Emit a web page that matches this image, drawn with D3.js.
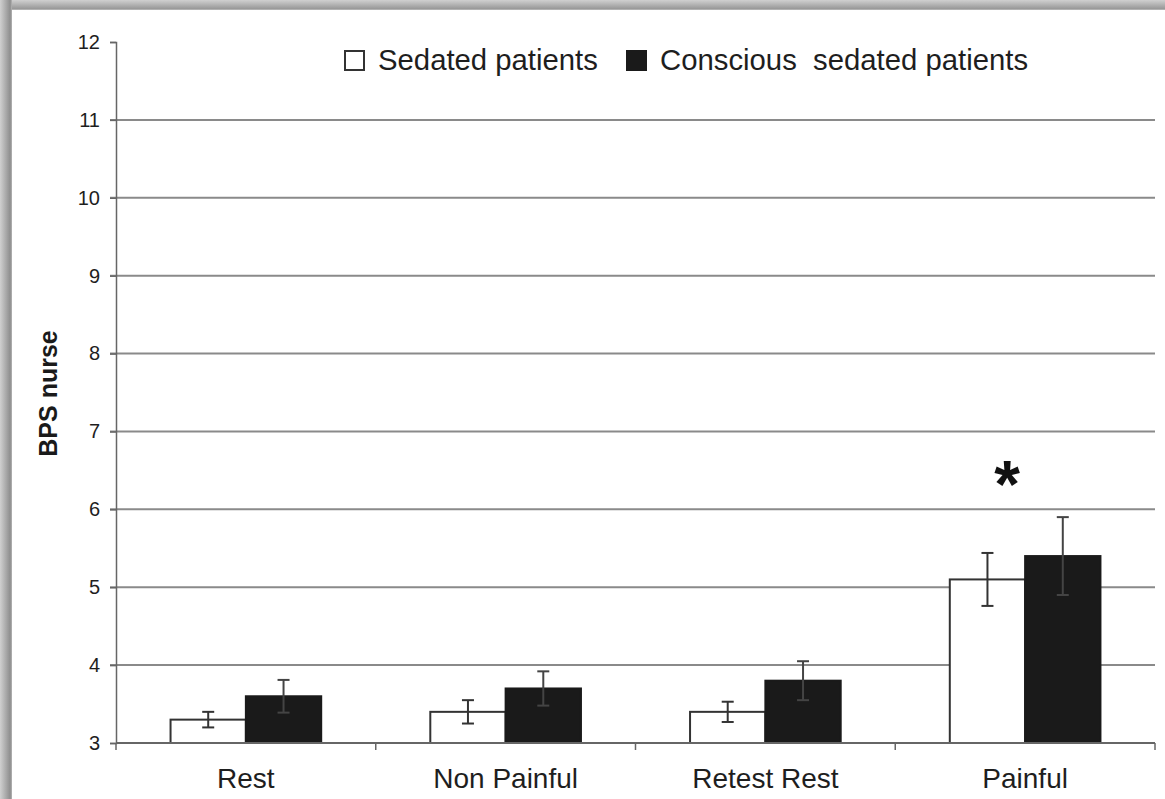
<!DOCTYPE html>
<html>
<head>
<meta charset="utf-8">
<script src="https://cdn.jsdelivr.net/npm/d3@7"></script>
<style>
  html, body { margin: 0; padding: 0; background: #fff; }
  svg { display: block; }
  text { font-family: "Liberation Sans", Arial, sans-serif; }
</style>
</head>
<body>
<svg id="chart" width="1165" height="799"></svg>
<script>
const categories = ["Rest", "Non Painful", "Retest Rest", "Painful"];
const seriesNames = ["Sedated patients", "Conscious sedated patients"];
const sedatedMeans = [3.3, 3.4, 3.4, 5.1];
const sedatedErrors = [0.1, 0.15, 0.13, 0.34];
const consciousMeans = [3.6, 3.7, 3.8, 5.4];
const consciousErrors = [0.21, 0.22, 0.25, 0.5];
const yTicks = [3, 4, 5, 6, 7, 8, 9, 10, 11, 12];
const yLabel = "BPS nurse";
const significance = ["", "", "", "*"];

const svg = d3.select("#chart");
const W = 1165, H = 799;

// frame shading (left and top)
const defs = svg.append("defs");
const gl = defs.append("linearGradient").attr("id", "gl").attr("x1", "0").attr("x2", "1").attr("y1", "0").attr("y2", "0");
gl.append("stop").attr("offset", "0").attr("stop-color", "#d0d0d0");
gl.append("stop").attr("offset", "0.85").attr("stop-color", "#8e8e8e");
gl.append("stop").attr("offset", "1").attr("stop-color", "#b5b5b5");
const gt = defs.append("linearGradient").attr("id", "gt").attr("x1", "0").attr("x2", "0").attr("y1", "0").attr("y2", "1");
gt.append("stop").attr("offset", "0").attr("stop-color", "#d0d0d0");
gt.append("stop").attr("offset", "0.85").attr("stop-color", "#9a9a9a");
gt.append("stop").attr("offset", "1").attr("stop-color", "#bdbdbd");
svg.append("rect").attr("x", 0).attr("y", 0).attr("width", W).attr("height", 10).attr("fill", "url(#gt)");
svg.append("rect").attr("x", 0).attr("y", 0).attr("width", 12).attr("height", H).attr("fill", "url(#gl)");

const x0 = 116, x1 = 1155, yTop = 42, yBot = 743;
const y = d3.scaleLinear().domain([3, 12]).range([yBot, yTop]);

const xOuter = d3.scaleBand().domain(categories).range([x0, x1]).padding(0);
const xBand = d3.scaleBand().domain(categories).range([x0, x1]).paddingInner(0.42).paddingOuter(0.21);
const xSub = d3.scaleBand().domain(seriesNames).range([0, xBand.bandwidth()]).padding(0);

const gridColor = "#8a8a8a";
const textColor = "#1e1e1e";

// gridlines
svg.append("g").selectAll("line").data(yTicks.filter(t => t > 3 && t < 12)).join("line")
  .attr("x1", x0 - 6).attr("x2", x1)
  .attr("y1", d => y(d)).attr("y2", d => y(d))
  .attr("stroke", gridColor).attr("stroke-width", 2);

// y axis
const yAxis = svg.append("g").attr("transform", `translate(${x0},0)`)
  .call(d3.axisLeft(y).tickValues(yTicks).tickSize(6).tickPadding(10).tickFormat(d3.format("d")));
yAxis.select(".domain").attr("stroke", "#666").attr("stroke-width", 1.5);
yAxis.selectAll(".tick line").attr("stroke", "#666").attr("stroke-width", 1.5);
yAxis.selectAll(".tick text").attr("font-size", 20).attr("fill", textColor)
  .attr("font-family", "Liberation Sans, Arial, sans-serif");

// y label
svg.append("text")
  .attr("transform", `translate(57,${(yTop + yBot) / 2 + 1}) rotate(-90)`)
  .attr("text-anchor", "middle")
  .attr("font-size", 25).attr("font-weight", "bold").attr("fill", "#1a1a1a")
  .text(yLabel);

// bars
const groups = svg.append("g").selectAll("g").data(categories).join("g")
  .attr("transform", d => `translate(${xBand(d)},0)`);

const rows = categories.map((c, i) => [
  { s: seriesNames[0], v: sedatedMeans[i], e: sedatedErrors[i] },
  { s: seriesNames[1], v: consciousMeans[i], e: consciousErrors[i] }
]);

groups.each(function (c, i) {
  const g = d3.select(this);
  const data = rows[i];
  g.selectAll("rect").data(data).join("rect")
    .attr("x", d => xSub(d.s))
    .attr("width", xSub.bandwidth())
    .attr("y", d => y(d.v))
    .attr("height", d => y(3) - y(d.v))
    .attr("fill", d => d.s === seriesNames[0] ? "#fff" : "#1a1a1a")
    .attr("stroke", d => d.s === seriesNames[0] ? "#333" : "#1a1a1a")
    .attr("stroke-width", 2);
  // error bars
  const eb = g.selectAll("g.err").data(data).join("g").attr("class", "err");
  const cx = d => xSub(d.s) + xSub.bandwidth() / 2;
  const col = d => d.s === seriesNames[0] ? "#333" : "#444";
  eb.append("line")
    .attr("x1", cx).attr("x2", cx)
    .attr("y1", d => y(d.v + d.e)).attr("y2", d => y(d.v - d.e))
    .attr("stroke", col).attr("stroke-width", 2);
  eb.append("line")
    .attr("x1", d => cx(d) - 6).attr("x2", d => cx(d) + 6)
    .attr("y1", d => y(d.v + d.e)).attr("y2", d => y(d.v + d.e))
    .attr("stroke", col).attr("stroke-width", 2);
  eb.append("line")
    .attr("x1", d => cx(d) - 6).attr("x2", d => cx(d) + 6)
    .attr("y1", d => y(d.v - d.e)).attr("y2", d => y(d.v - d.e))
    .attr("stroke", col).attr("stroke-width", 2);
});

// significance marks
svg.append("g").selectAll("text").data(categories).join("text")
  .attr("x", d => xBand(d) + xBand.bandwidth() / 2 - 18)
  .attr("y", (d, i) => y(Math.max(sedatedMeans[i] + sedatedErrors[i], consciousMeans[i] + consciousErrors[i])) - 10)
  .attr("text-anchor", "middle")
  .attr("font-size", 66).attr("font-weight", "bold").attr("fill", "#111")
  .text((d, i) => significance[i]);

// x axis
const xAxisG = svg.append("g").attr("transform", `translate(0,${yBot})`);
xAxisG.append("line").attr("x1", x0).attr("x2", x1).attr("y1", 0).attr("y2", 0)
  .attr("stroke", "#666").attr("stroke-width", 2);
const boundaries = categories.map(c => xOuter(c)).concat([x1]);
xAxisG.selectAll("line.tk").data(boundaries).join("line").attr("class", "tk")
  .attr("x1", d => d).attr("x2", d => d).attr("y1", 0).attr("y2", 7)
  .attr("stroke", "#666").attr("stroke-width", 1.5);
xAxisG.selectAll("text").data(categories).join("text")
  .attr("x", d => xOuter(d) + xOuter.bandwidth() / 2)
  .attr("y", 45)
  .attr("text-anchor", "middle")
  .attr("font-size", 28).attr("fill", textColor)
  .text(d => d);

// legend
const legend = svg.append("g");
const legendItems = [
  { name: seriesNames[0], x: 344, fill: "#fff", stroke: "#333" },
  { name: seriesNames[1], x: 626, fill: "#1a1a1a", stroke: "#1a1a1a" }
];
legend.selectAll("rect").data(legendItems).join("rect")
  .attr("x", d => d.x + 1).attr("y", 51).attr("width", 19).attr("height", 19)
  .attr("fill", d => d.fill).attr("stroke", d => d.stroke).attr("stroke-width", 2);
legend.selectAll("text").data(legendItems).join("text")
  .attr("x", d => d.x + 34).attr("y", 70)
  .attr("font-size", 29.3).attr("fill", textColor)
  .attr("xml:space", "preserve")
  .text(d => d.name.replace("Conscious ", "Conscious  "));
</script>
</body>
</html>
